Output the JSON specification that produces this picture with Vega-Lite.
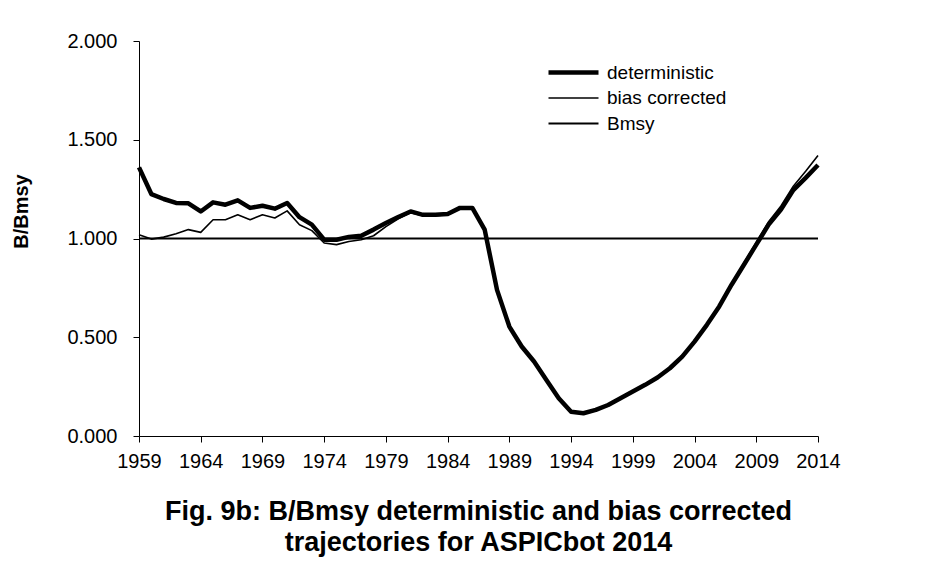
{
  "$schema": "https://vega.github.io/schema/vega-lite/v6.json",
  "width": 679,
  "height": 395,
  "autosize": {"type": "none"},
  "padding": {"left": 139, "top": 41, "right": 117, "bottom": 139},
  "background": "white",
  "config": {
    "view": {"stroke": null},
    "font": "Liberation Sans",
    "axis": {"grid": false, "domainColor": "black", "tickColor": "black", "labelColor": "black", "titleColor": "black", "labelFont": "Liberation Sans", "titleFont": "Liberation Sans", "domainWidth": 1, "tickWidth": 1}
  },
  "title": {
    "text": ["Fig. 9b: B/Bmsy deterministic and bias corrected", "trajectories for ASPICbot 2014"],
    "orient": "bottom",
    "anchor": "middle",
    "font": "Liberation Sans",
    "fontSize": 27,
    "fontWeight": "bold",
    "color": "black",
    "offset": 28,
    "lineHeight": 31
  },
  "data": {
    "values": [
      {"year": 1959, "series": "deterministic", "value": 1.36},
      {"year": 1960, "series": "deterministic", "value": 1.225},
      {"year": 1961, "series": "deterministic", "value": 1.2},
      {"year": 1962, "series": "deterministic", "value": 1.18},
      {"year": 1963, "series": "deterministic", "value": 1.178},
      {"year": 1964, "series": "deterministic", "value": 1.137},
      {"year": 1965, "series": "deterministic", "value": 1.183},
      {"year": 1966, "series": "deterministic", "value": 1.171},
      {"year": 1967, "series": "deterministic", "value": 1.193},
      {"year": 1968, "series": "deterministic", "value": 1.155},
      {"year": 1969, "series": "deterministic", "value": 1.166},
      {"year": 1970, "series": "deterministic", "value": 1.151},
      {"year": 1971, "series": "deterministic", "value": 1.18},
      {"year": 1972, "series": "deterministic", "value": 1.108},
      {"year": 1973, "series": "deterministic", "value": 1.07},
      {"year": 1974, "series": "deterministic", "value": 0.994},
      {"year": 1975, "series": "deterministic", "value": 0.994},
      {"year": 1976, "series": "deterministic", "value": 1.008},
      {"year": 1977, "series": "deterministic", "value": 1.014},
      {"year": 1978, "series": "deterministic", "value": 1.045},
      {"year": 1979, "series": "deterministic", "value": 1.078},
      {"year": 1980, "series": "deterministic", "value": 1.109},
      {"year": 1981, "series": "deterministic", "value": 1.137},
      {"year": 1982, "series": "deterministic", "value": 1.12},
      {"year": 1983, "series": "deterministic", "value": 1.12},
      {"year": 1984, "series": "deterministic", "value": 1.124},
      {"year": 1985, "series": "deterministic", "value": 1.155},
      {"year": 1986, "series": "deterministic", "value": 1.155},
      {"year": 1987, "series": "deterministic", "value": 1.045},
      {"year": 1988, "series": "deterministic", "value": 0.74},
      {"year": 1989, "series": "deterministic", "value": 0.554},
      {"year": 1990, "series": "deterministic", "value": 0.453},
      {"year": 1991, "series": "deterministic", "value": 0.377},
      {"year": 1992, "series": "deterministic", "value": 0.284},
      {"year": 1993, "series": "deterministic", "value": 0.191},
      {"year": 1994, "series": "deterministic", "value": 0.123},
      {"year": 1995, "series": "deterministic", "value": 0.115},
      {"year": 1996, "series": "deterministic", "value": 0.132},
      {"year": 1997, "series": "deterministic", "value": 0.157},
      {"year": 1998, "series": "deterministic", "value": 0.191},
      {"year": 1999, "series": "deterministic", "value": 0.225},
      {"year": 2000, "series": "deterministic", "value": 0.259},
      {"year": 2001, "series": "deterministic", "value": 0.296},
      {"year": 2002, "series": "deterministic", "value": 0.343},
      {"year": 2003, "series": "deterministic", "value": 0.402},
      {"year": 2004, "series": "deterministic", "value": 0.478},
      {"year": 2005, "series": "deterministic", "value": 0.563},
      {"year": 2006, "series": "deterministic", "value": 0.656},
      {"year": 2007, "series": "deterministic", "value": 0.766},
      {"year": 2008, "series": "deterministic", "value": 0.867},
      {"year": 2009, "series": "deterministic", "value": 0.969},
      {"year": 2010, "series": "deterministic", "value": 1.07},
      {"year": 2011, "series": "deterministic", "value": 1.146},
      {"year": 2012, "series": "deterministic", "value": 1.245},
      {"year": 2013, "series": "deterministic", "value": 1.307},
      {"year": 2014, "series": "deterministic", "value": 1.372},
      {"year": 1959, "series": "bias corrected", "value": 1.019},
      {"year": 1960, "series": "bias corrected", "value": 0.997},
      {"year": 1961, "series": "bias corrected", "value": 1.007},
      {"year": 1962, "series": "bias corrected", "value": 1.024},
      {"year": 1963, "series": "bias corrected", "value": 1.045},
      {"year": 1964, "series": "bias corrected", "value": 1.031},
      {"year": 1965, "series": "bias corrected", "value": 1.095},
      {"year": 1966, "series": "bias corrected", "value": 1.095},
      {"year": 1967, "series": "bias corrected", "value": 1.12},
      {"year": 1968, "series": "bias corrected", "value": 1.095},
      {"year": 1969, "series": "bias corrected", "value": 1.12},
      {"year": 1970, "series": "bias corrected", "value": 1.104},
      {"year": 1971, "series": "bias corrected", "value": 1.14},
      {"year": 1972, "series": "bias corrected", "value": 1.07},
      {"year": 1973, "series": "bias corrected", "value": 1.04},
      {"year": 1974, "series": "bias corrected", "value": 0.977},
      {"year": 1975, "series": "bias corrected", "value": 0.969},
      {"year": 1976, "series": "bias corrected", "value": 0.985},
      {"year": 1977, "series": "bias corrected", "value": 0.994},
      {"year": 1978, "series": "bias corrected", "value": 1.014},
      {"year": 1979, "series": "bias corrected", "value": 1.06},
      {"year": 1980, "series": "bias corrected", "value": 1.1},
      {"year": 1981, "series": "bias corrected", "value": 1.13},
      {"year": 1982, "series": "bias corrected", "value": 1.115},
      {"year": 1983, "series": "bias corrected", "value": 1.115},
      {"year": 1984, "series": "bias corrected", "value": 1.12},
      {"year": 1985, "series": "bias corrected", "value": 1.15},
      {"year": 1986, "series": "bias corrected", "value": 1.15},
      {"year": 1987, "series": "bias corrected", "value": 1.04},
      {"year": 1988, "series": "bias corrected", "value": 0.738},
      {"year": 1989, "series": "bias corrected", "value": 0.552},
      {"year": 1990, "series": "bias corrected", "value": 0.451},
      {"year": 1991, "series": "bias corrected", "value": 0.375},
      {"year": 1992, "series": "bias corrected", "value": 0.282},
      {"year": 1993, "series": "bias corrected", "value": 0.189},
      {"year": 1994, "series": "bias corrected", "value": 0.121},
      {"year": 1995, "series": "bias corrected", "value": 0.113},
      {"year": 1996, "series": "bias corrected", "value": 0.13},
      {"year": 1997, "series": "bias corrected", "value": 0.155},
      {"year": 1998, "series": "bias corrected", "value": 0.19},
      {"year": 1999, "series": "bias corrected", "value": 0.224},
      {"year": 2000, "series": "bias corrected", "value": 0.258},
      {"year": 2001, "series": "bias corrected", "value": 0.296},
      {"year": 2002, "series": "bias corrected", "value": 0.344},
      {"year": 2003, "series": "bias corrected", "value": 0.404},
      {"year": 2004, "series": "bias corrected", "value": 0.481},
      {"year": 2005, "series": "bias corrected", "value": 0.567},
      {"year": 2006, "series": "bias corrected", "value": 0.662},
      {"year": 2007, "series": "bias corrected", "value": 0.773},
      {"year": 2008, "series": "bias corrected", "value": 0.876},
      {"year": 2009, "series": "bias corrected", "value": 0.98},
      {"year": 2010, "series": "bias corrected", "value": 1.085},
      {"year": 2011, "series": "bias corrected", "value": 1.165},
      {"year": 2012, "series": "bias corrected", "value": 1.265},
      {"year": 2013, "series": "bias corrected", "value": 1.34},
      {"year": 2014, "series": "bias corrected", "value": 1.42},
      {"year": 1959, "series": "Bmsy", "value": 1.0},
      {"year": 2014, "series": "Bmsy", "value": 1.0}
    ]
  },
  "mark": {"type": "line", "strokeJoin": "round", "strokeCap": "butt"},
  "encoding": {
    "x": {
      "field": "year",
      "type": "quantitative",
      "scale": {"domain": [1959, 2014], "nice": false, "zero": false},
      "axis": {
        "title": null,
        "values": [1959, 1964, 1969, 1974, 1979, 1984, 1989, 1994, 1999, 2004, 2009, 2014],
        "format": "d",
        "labelFontSize": 20,
        "tickSize": 6,
        "labelPadding": 9,
        "labelFlush": false,
        "labelOverlap": false
      }
    },
    "y": {
      "field": "value",
      "type": "quantitative",
      "scale": {"domain": [0, 2], "nice": false},
      "axis": {
        "title": "B/Bmsy",
        "titleFontSize": 20,
        "titleFontWeight": "bold",
        "titleX": -108,
        "titleY": 170,
        "values": [0, 0.5, 1, 1.5, 2],
        "format": ".3f",
        "labelFontSize": 20,
        "tickSize": 6,
        "labelPadding": 16
      }
    },
    "color": {
      "field": "series",
      "type": "nominal",
      "scale": {"domain": ["deterministic", "bias corrected", "Bmsy"], "range": ["black", "black", "black"]},
      "legend": {
        "title": null,
        "orient": "none",
        "legendX": 422,
        "legendY": 19,
        "symbolType": "M-2.5,0H2.5",
        "symbolSize": 400,
        "symbolFillColor": "transparent",
        "labelFontSize": 19,
        "labelColor": "black",
        "labelOffset": 21,
        "rowPadding": 4
      }
    },
    "strokeWidth": {
      "field": "series",
      "type": "nominal",
      "scale": {"type": "ordinal", "domain": ["deterministic", "bias corrected", "Bmsy"], "range": [4.5, 1.6, 2.2]},
      "legend": null
    },
    "order": {"field": "year", "type": "quantitative"}
  }
}
